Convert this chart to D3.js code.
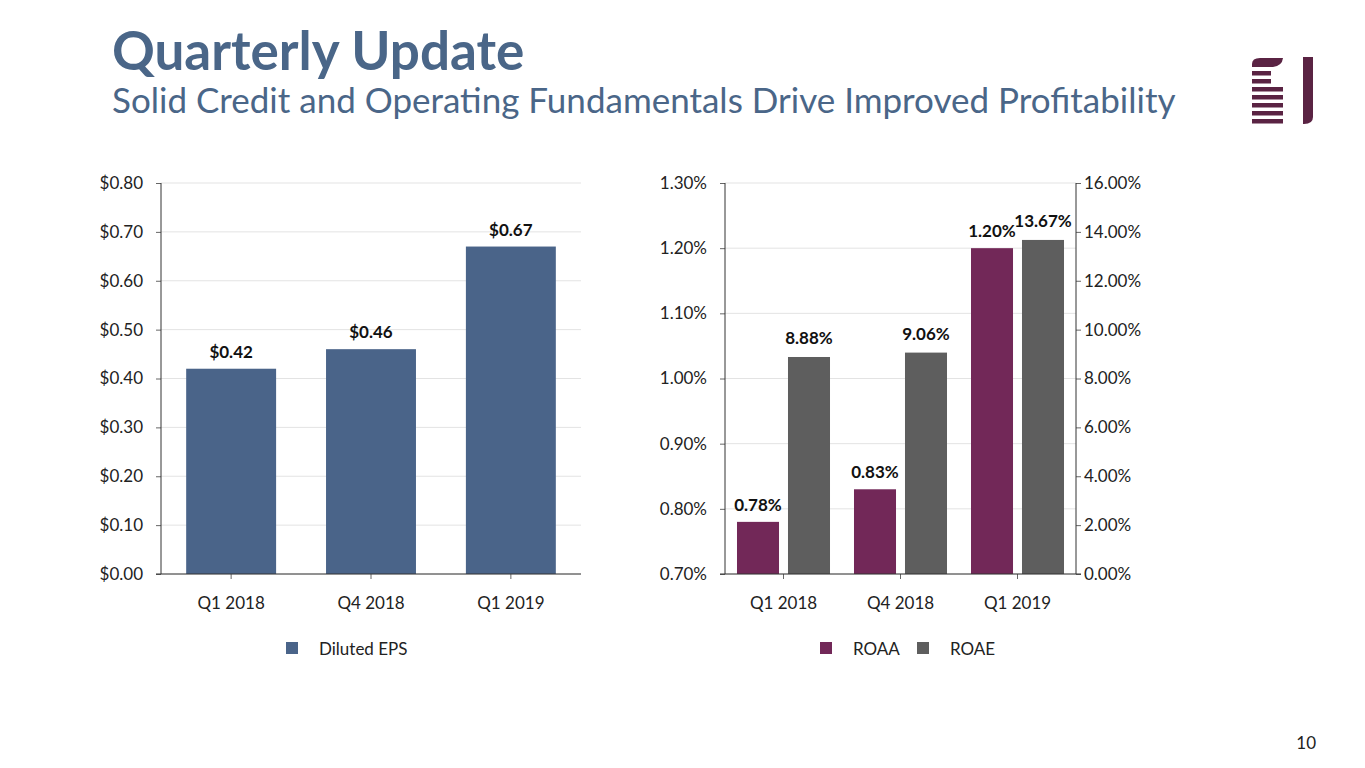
<!DOCTYPE html>
<html><head><meta charset="utf-8">
<script src="https://cdn.jsdelivr.net/npm/d3@7"></script>
<style>
body{margin:0;background:#fff;}
svg{display:block;font-family:Lato,"Open Sans",sans-serif;}
</style></head>
<body>
<svg id="c" width="1365" height="768"></svg>
<script>
const categories = ["Q1 2018","Q4 2018","Q1 2019"];
const epsValues = [0.42, 0.46, 0.67];
const epsLabels = ["$0.42","$0.46","$0.67"];
const roaaValues = [0.78, 0.83, 1.20];
const roaaLabels = ["0.78%","0.83%","1.20%"];
const roaeValues = [8.88, 9.06, 13.67];
const roaeLabels = ["8.88%","9.06%","13.67%"];
const epsTicks = [0,0.1,0.2,0.3,0.4,0.5,0.6,0.7,0.8];
const roaaTicks = [0.7,0.8,0.9,1.0,1.1,1.2,1.3];
const roaeTicks = [0,2,4,6,8,10,12,14,16];

const svg = d3.select("#c");
const titleColor = "#4a6688";
const cEPS = "#4a6489", cROAA = "#722858", cROAE = "#5e5e5e";
const gridColor = "#e3e3e3", axisColor = "#333", txt = "#222";
const FS = 17;

svg.append("text").attr("x",112).attr("y",70).attr("fill",titleColor)
  .attr("font-size",53).attr("font-weight",700).text("Quarterly Update");
svg.append("text").attr("x",112).attr("y",113).attr("fill",titleColor)
  .attr("font-size",35).text("Solid Credit and Operating Fundamentals Drive Improved Profitability");

// logo (decorative)
const logo = svg.append("g").attr("fill","#5a2343");
logo.append("path").attr("d","M1252,67 L1252,64 Q1252,58 1260,58 L1283,58 Q1282,66 1273,67 Z");
[[71,19],[79,19],[87,31],[95,31],[103,31],[111,31],[119,31]].forEach(([y,w])=>{
  logo.append("rect").attr("x",1252).attr("y",y).attr("width",w).attr("height",4.5);
});
logo.append("path").attr("d","M1303,57 L1313,57 L1313,117 Q1313,124 1304,124 L1303,124 Z");

svg.append("text").attr("x",1316).attr("y",749).attr("text-anchor","end").attr("fill",txt)
  .attr("font-size",FS).text("10");

const yTop = 183, yBot = 574;

function styleAxis(a){
  a.select(".domain").remove();
  a.selectAll("line").attr("stroke","#666");
  a.selectAll("text").attr("fill",txt).attr("font-size",FS).attr("font-family","Lato, sans-serif");
}

// ---------- Left chart ----------
const x1 = d3.scaleBand().domain(categories).range([161,581]).paddingInner(0.357).paddingOuter(0.18);
const y1 = d3.scaleLinear().domain([0,0.8]).range([yBot,yTop]);
const g1 = svg.append("g");
g1.selectAll("line.grid").data(epsTicks).join("line").attr("class","grid")
  .attr("x1",161).attr("x2",581).attr("y1",d=>y1(d)).attr("y2",d=>y1(d))
  .attr("stroke",gridColor).attr("stroke-width",1);
g1.selectAll("rect.bar").data(epsValues).join("rect").attr("class","bar")
  .attr("x",(d,i)=>x1(categories[i])).attr("width",x1.bandwidth())
  .attr("y",d=>y1(d)).attr("height",d=>y1(0)-y1(d)).attr("fill",cEPS);
const yAx1 = g1.append("g").attr("transform","translate(161,0)")
  .call(d3.axisLeft(y1).tickValues(epsTicks).tickSize(5).tickPadding(13).tickFormat(d=>"$"+d3.format(".2f")(d)));
const xAx1 = g1.append("g").attr("transform",`translate(0,${yBot})`)
  .call(d3.axisBottom(x1).tickSize(5).tickPadding(18));
styleAxis(yAx1); styleAxis(xAx1);
g1.append("line").attr("x1",161).attr("x2",161).attr("y1",yTop).attr("y2",yBot).attr("stroke",axisColor);
g1.append("line").attr("x1",156).attr("x2",581).attr("y1",yBot).attr("y2",yBot).attr("stroke",axisColor);
g1.selectAll("text.lbl").data(epsValues).join("text").attr("class","lbl")
  .attr("x",(d,i)=>x1(categories[i])+x1.bandwidth()/2).attr("y",(d,i)=>y1(d)-11)
  .attr("text-anchor","middle").attr("font-weight",700).attr("font-size",FS).attr("fill","#111")
  .text((d,i)=>epsLabels[i]);
svg.append("rect").attr("x",286).attr("y",642).attr("width",12).attr("height",12).attr("fill",cEPS);
svg.append("text").attr("x",319).attr("y",655).attr("font-size",FS).attr("fill",txt).text("Diluted EPS");

// ---------- Right chart ----------
const L = 725, R = 1076;
const x2 = d3.scaleBand().domain(categories).range([L,R]).paddingInner(0.205).paddingOuter(0.1025);
const sub = d3.scaleBand().domain(["ROAA","ROAE"]).range([0,x2.bandwidth()]).paddingInner(0.176);
const y2 = d3.scaleLinear().domain([0.7,1.3]).range([yBot,yTop]);
const y3 = d3.scaleLinear().domain([0,16]).range([yBot,yTop]);
const g2 = svg.append("g");
g2.selectAll("line.grid").data(roaaTicks).join("line").attr("class","grid")
  .attr("x1",L).attr("x2",R).attr("y1",d=>y2(d)).attr("y2",d=>y2(d))
  .attr("stroke",gridColor);
g2.selectAll("rect.roaa").data(roaaValues).join("rect").attr("class","roaa")
  .attr("x",(d,i)=>x2(categories[i])+sub("ROAA")).attr("width",sub.bandwidth())
  .attr("y",d=>y2(d)).attr("height",d=>y2(0.7)-y2(d)).attr("fill",cROAA);
g2.selectAll("rect.roae").data(roaeValues).join("rect").attr("class","roae")
  .attr("x",(d,i)=>x2(categories[i])+sub("ROAE")).attr("width",sub.bandwidth())
  .attr("y",d=>y3(d)).attr("height",d=>y3(0)-y3(d)).attr("fill",cROAE);
const yAx2 = g2.append("g").attr("transform",`translate(${L},0)`)
  .call(d3.axisLeft(y2).tickValues(roaaTicks).tickSize(5).tickPadding(13).tickFormat(d=>d3.format(".2f")(d)+"%"));
const yAx3 = g2.append("g").attr("transform",`translate(${R},0)`)
  .call(d3.axisRight(y3).tickValues(roaeTicks).tickSize(5).tickPadding(3).tickFormat(d=>d3.format(".2f")(d)+"%"));
const xAx2 = g2.append("g").attr("transform",`translate(0,${yBot})`)
  .call(d3.axisBottom(x2).tickSize(5).tickPadding(18));
styleAxis(yAx2); styleAxis(yAx3); styleAxis(xAx2);
g2.append("line").attr("x1",L).attr("x2",L).attr("y1",yTop).attr("y2",yBot).attr("stroke",axisColor);
g2.append("line").attr("x1",R).attr("x2",R).attr("y1",yTop).attr("y2",yBot).attr("stroke",axisColor);
g2.append("line").attr("x1",L-5).attr("x2",R+5).attr("y1",yBot).attr("y2",yBot).attr("stroke",axisColor);
g2.selectAll("text.l1").data(roaaValues).join("text").attr("class","l1")
  .attr("x",(d,i)=>x2(categories[i])+sub("ROAA")+sub.bandwidth()/2).attr("y",d=>y2(d)-11)
  .attr("text-anchor","middle").attr("font-weight",700).attr("font-size",FS).attr("fill","#111")
  .text((d,i)=>roaaLabels[i]);
g2.selectAll("text.l2").data(roaeValues).join("text").attr("class","l2")
  .attr("x",(d,i)=>x2(categories[i])+sub("ROAE")+sub.bandwidth()/2).attr("y",d=>y3(d)-13)
  .attr("text-anchor","middle").attr("font-weight",700).attr("font-size",FS).attr("fill","#111")
  .text((d,i)=>roaeLabels[i]);
svg.append("rect").attr("x",820).attr("y",642).attr("width",12).attr("height",12).attr("fill",cROAA);
svg.append("text").attr("x",853).attr("y",655).attr("font-size",FS).attr("fill",txt).text("ROAA");
svg.append("rect").attr("x",917).attr("y",642).attr("width",12).attr("height",12).attr("fill",cROAE);
svg.append("text").attr("x",950).attr("y",655).attr("font-size",FS).attr("fill",txt).text("ROAE");
</script>
</body></html>
